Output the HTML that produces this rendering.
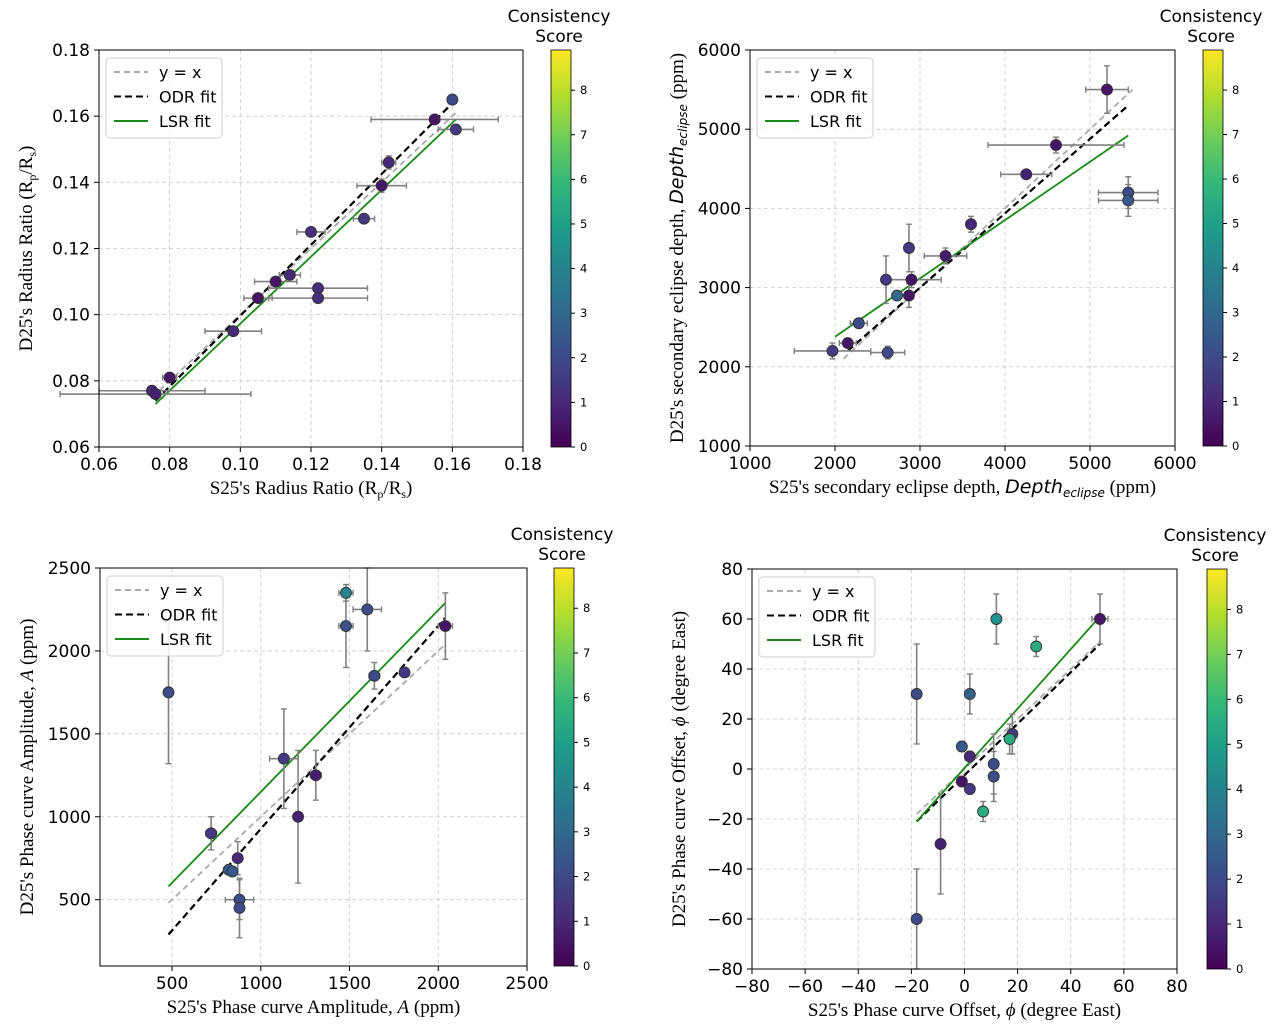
<!DOCTYPE html>
<html><head><meta charset="utf-8"><style>
body{margin:0;background:#fff;}
svg{display:block;}
</style></head><body>
<svg id="fig" width="1285" height="1030" xmlns="http://www.w3.org/2000/svg"></svg>
<script>
// Panel 1 data
const p1x=[0.160,0.155,0.161,0.142,0.140,0.135,0.120,0.114,0.110,0.122,0.122,0.105,0.098,0.080,0.075,0.076];
const p1y=[0.165,0.159,0.156,0.146,0.139,0.129,0.125,0.112,0.110,0.108,0.105,0.105,0.095,0.081,0.077,0.076];
const p1xe=[0,0.018,0.005,0.002,0.007,0.003,0.004,0.003,0.006,0.014,0.014,0.004,0.008,0.002,0.015,0.027];
const p1ye=[0.001,0.001,0.001,0.002,0.002,0.001,0.001,0.001,0.001,0.001,0.001,0.001,0.001,0.001,0.001,0.001];
const p1s=[2,0.5,1.5,1,0.5,1.5,1.2,1,0.5,1.2,1.2,0.5,1,0.5,1,0.8];
const p1ticks=[0.06,0.08,0.10,0.12,0.14,0.16,0.18];
// Panel 2 data
const p2x=[5200,4600,4250,5450,5450,3600,2870,3300,2600,2900,2870,2730,2280,2150,1970,2620];
const p2y=[5500,4800,4430,4200,4100,3800,3500,3400,3100,3100,2900,2900,2550,2300,2200,2180];
const p2xe=[250,800,300,350,350,50,50,250,50,350,50,50,100,100,450,200];
const p2ye=[300,100,50,200,200,100,300,100,300,100,150,50,50,50,100,80];
const p2s=[0.5,0.5,0.8,2,2.5,1,1.5,0.7,1.5,0.5,0.5,3,2,0.5,1.5,2];
const p2ticks=[1000,2000,3000,4000,5000,6000];
// Panel 3 data
const p3x=[480,1480,1600,1480,2040,1640,1810,1130,1310,1210,720,870,820,840,880,880];
const p3y=[1750,2350,2250,2150,2150,1850,1870,1350,1250,1000,900,750,680,670,500,450];
const p3xe=[0,40,80,40,40,30,0,80,30,0,30,0,30,0,80,0];
const p3ye=[430,50,250,250,200,80,0,300,150,400,100,100,30,30,120,180];
const p3s=[2,4,2,2.2,0.5,2,1.5,1.5,0.7,0.8,1.5,1,2.5,2.5,2,2];
const p3xticks=[500,1000,1500,2000,2500];
const p3yticks=[500,1000,1500,2000,2500];
// Panel 4 data
const p4x=[51,12,27,-18,2,-1,2,18,17,-1,11,11,2,7,-9,-18];
const p4y=[60,60,49,30,30,9,5,14,12,-5,2,-3,-8,-17,-30,-60];
const p4xe=[3,0,0,0,0,0,0,0,0,0,0,0,0,0,0,0];
const p4ye=[10,10,4,20,8,2,2,8,6,2,12,10,2,4,20,20];
const p4s=[0.5,4.5,5.5,2,2.8,2.5,1,1.5,5.5,0.5,2,2,1.5,5.5,0.8,2];
const p4ticks=[-80,-60,-40,-20,0,20,40,60,80];

const NS="http://www.w3.org/2000/svg";
const SANS="DejaVu Sans, sans-serif";
const svg=document.getElementById('fig');
function el(tag,attrs,parent,text){const e=document.createElementNS(NS,tag);for(const k in attrs)e.setAttribute(k,attrs[k]);if(text!==undefined)e.textContent=text;(parent||svg).appendChild(e);return e;}
const VS=[[68,1,84],[72,40,120],[62,74,137],[49,104,142],[38,130,142],[31,158,137],[53,183,121],[109,205,89],[180,222,44],[253,231,37]];
function viridis(t){t=Math.max(0,Math.min(1,t))*(VS.length-1);const i=Math.min(Math.floor(t),VS.length-2),f=t-i;const c=VS[i].map((v,k)=>Math.round(v+(VS[i+1][k]-v)*f));return `rgb(${c[0]},${c[1]},${c[2]})`;}
const SMAX=8.9;

function panel(id,cfg){
  const g=el('g',{},svg);
  
  
  const X=v=>cfg.L+(v-cfg.x0)/(cfg.x1-cfg.x0)*(cfg.R-cfg.L);
  const Y=v=>cfg.B-(v-cfg.y0)/(cfg.y1-cfg.y0)*(cfg.B-cfg.T);
  cfg.xt.forEach(v=>{const x=X(v);el('line',{x1:x,x2:x,y1:cfg.T,y2:cfg.B,stroke:'#c8c8c8','stroke-dasharray':'4,3','stroke-width':0.8},g);
    const t=el('text',{x:x,y:cfg.B+23,'font-size':17,'text-anchor':'middle','font-family':SANS},g,cfg.fx(v));
    el('line',{x1:x,x2:x,y1:cfg.B,y2:cfg.B+5,stroke:'#000'},g);});
  cfg.yt.forEach(v=>{const y=Y(v);el('line',{x1:cfg.L,x2:cfg.R,y1:y,y2:y,stroke:'#c8c8c8','stroke-dasharray':'4,3','stroke-width':0.8},g);
    const t=el('text',{x:cfg.L-9,y:y+6,'font-size':17,'text-anchor':'end','font-family':SANS},g,cfg.fy(v));
    el('line',{x1:cfg.L-5,x2:cfg.L,y1:y,y2:y,stroke:'#000'},g);});
  const ln=(a,b,col,dash,w,name)=>{const l=el('line',{x1:X(a[0]),y1:Y(a[1]),x2:X(b[0]),y2:Y(b[1]),stroke:col,'stroke-width':w,'stroke-dasharray':dash},g);};
  ln(cfg.yx[0],cfg.yx[1],'#aaa','6,4',1.8,'y-equals-x-line');
  ln(cfg.odr[0],cfg.odr[1],'#000','7,4',2.2,'odr-fit-line');
  ln(cfg.lsr[0],cfg.lsr[1],'#178a17','none',1.8,'lsr-fit-line');
  for(let i=0;i<cfg.xs.length;i++){
    const px=X(cfg.xs[i]),py=Y(cfg.ys[i]);
    if(cfg.xe[i]>0){const a=X(cfg.xs[i]-cfg.xe[i]),b=X(cfg.xs[i]+cfg.xe[i]);
      el('line',{x1:a,x2:b,y1:py,y2:py,stroke:'#808080','stroke-width':1.6},g);
      el('line',{x1:a,x2:a,y1:py-3,y2:py+3,stroke:'#808080','stroke-width':1.4},g);
      el('line',{x1:b,x2:b,y1:py-3,y2:py+3,stroke:'#808080','stroke-width':1.4},g);}
    if(cfg.ye[i]>0){const a=Y(cfg.ys[i]-cfg.ye[i]),b=Y(cfg.ys[i]+cfg.ye[i]);
      el('line',{x1:px,x2:px,y1:a,y2:b,stroke:'#808080','stroke-width':1.6},g);
      el('line',{x1:px-3,x2:px+3,y1:a,y2:a,stroke:'#808080','stroke-width':1.4},g);
      el('line',{x1:px-3,x2:px+3,y1:b,y2:b,stroke:'#808080','stroke-width':1.4},g);}
  }
  for(let i=0;i<cfg.xs.length;i++){
    const c=el('circle',{cx:X(cfg.xs[i]),cy:Y(cfg.ys[i]),r:5.5,fill:viridis(cfg.ss[i]/SMAX),stroke:'#333','stroke-width':0.9},g);
    
    
  }
  el('rect',{x:cfg.L,y:cfg.T,width:cfg.R-cfg.L,height:cfg.B-cfg.T,fill:'none',stroke:'#000','stroke-width':1},g);
  const lg=el('g',{},g);
  const lx=cfg.L+7,ly=cfg.T+8;
  el('rect',{x:lx,y:ly,width:116,height:80,rx:4,fill:'#fff','fill-opacity':0.85,stroke:'#ccc'},lg);
  [['y = x','#aaa','6,4'],['ODR fit','#000','7,4'],['LSR fit','#178a17','none']].forEach((d,k)=>{
    const yy=ly+14+k*24.5;
    el('line',{x1:lx+8,x2:lx+42,y1:yy,y2:yy,stroke:d[1],'stroke-width':2,'stroke-dasharray':d[2]},lg);
    const t=el('text',{x:lx+53,y:yy+6,'font-size':16,'font-family':SANS},lg,d[0]);
  });
  const xl=el('text',{x:(cfg.L+cfg.R)/2,y:cfg.B+47,'font-size':19,'text-anchor':'middle','font-family':'Liberation Serif, serif'},g);
  xl.innerHTML=cfg.xlab;
  const yl=el('text',{transform:`translate(${cfg.L-67},${(cfg.T+cfg.B)/2}) rotate(-90)`,'font-size':19,'text-anchor':'middle','font-family':'Liberation Serif, serif'},g);
  yl.innerHTML=cfg.ylab;
  const cb=el('g',{},g);
  const defs=el('defs',{},cb);const gr=el('linearGradient',{id:id+'grad',x1:0,y1:1,x2:0,y2:0},defs);
  VS.forEach((c,k)=>el('stop',{offset:(k/(VS.length-1)),'stop-color':`rgb(${c})`},gr));
  el('rect',{x:cfg.cx,y:cfg.T,width:20,height:cfg.B-cfg.T,fill:`url(#${id}grad)`,stroke:'#000','stroke-width':0.8},cb);
  for(let s=0;s<=8;s++){const y=cfg.B-s/SMAX*(cfg.B-cfg.T);
    el('line',{x1:cfg.cx+20,x2:cfg.cx+24,y1:y,y2:y,stroke:'#000'},cb);
    el('text',{x:cfg.cx+29,y:y+4,'font-size':11.5,'font-family':SANS},cb,String(s));}
  el('text',{x:cfg.cx+8,y:cfg.T-28,'font-size':17,'text-anchor':'middle','font-family':SANS},cb,'Consistency');
  el('text',{x:cfg.cx+8,y:cfg.T-8,'font-size':17,'text-anchor':'middle','font-family':SANS},cb,'Score');
}
panel('radius',{L:99,R:523,T:50,B:447,x0:0.06,x1:0.18,y0:0.06,y1:0.18,xt:p1ticks,yt:p1ticks,fx:v=>v.toFixed(2),fy:v=>v.toFixed(2),
  xs:p1x,ys:p1y,xe:p1xe,ye:p1ye,ss:p1s,yx:[[0.075,0.075],[0.161,0.161]],odr:[[0.076,0.074],[0.161,0.165]],lsr:[[0.076,0.073],[0.161,0.159]],cx:551,
  xlab:"S25's Radius Ratio (R<tspan font-size='12' dy='4'>p</tspan><tspan dy='-4'>/R</tspan><tspan font-size='12' dy='4'>s</tspan><tspan dy='-4'>)</tspan>",
  ylab:"D25's Radius Ratio (R<tspan font-size='12' dy='4'>p</tspan><tspan dy='-4'>/R</tspan><tspan font-size='12' dy='4'>s</tspan><tspan dy='-4'>)</tspan>"});
panel('depth',{L:750,R:1175,T:50,B:446,x0:1000,x1:6000,y0:1000,y1:6000,xt:p2ticks,yt:p2ticks,fx:v=>v,fy:v=>v,
  xs:p2x,ys:p2y,xe:p2xe,ye:p2ye,ss:p2s,yx:[[2100,2100],[5500,5500]],odr:[[2150,2200],[5450,5300]],lsr:[[2000,2380],[5450,4920]],cx:1203,
  xlab:"S25's secondary eclipse depth, <tspan font-style='italic' font-family='DejaVu Sans, sans-serif'>Depth</tspan><tspan font-size='12' dy='4' font-style='italic' font-family='DejaVu Sans, sans-serif'>eclipse</tspan><tspan dy='-4'> (ppm)</tspan>",
  ylab:"D25's secondary eclipse depth, <tspan font-style='italic' font-family='DejaVu Sans, sans-serif'>Depth</tspan><tspan font-size='12' dy='4' font-style='italic' font-family='DejaVu Sans, sans-serif'>eclipse</tspan><tspan dy='-4'> (ppm)</tspan>"});
panel('amp',{L:100,R:527,T:568,B:966,x0:94,x1:2500,y0:100,y1:2500,xt:p3xticks,yt:p3yticks,fx:v=>v,fy:v=>v,
  xs:p3x,ys:p3y,xe:p3xe,ye:p3ye,ss:p3s,yx:[[480,480],[2030,2030]],odr:[[480,290],[2040,2200]],lsr:[[480,580],[2040,2290]],cx:554,
  xlab:"S25's Phase curve Amplitude, <tspan font-style='italic'>A</tspan> (ppm)",ylab:"D25's Phase curve Amplitude, <tspan font-style='italic'>A</tspan> (ppm)"});
panel('offset',{L:752,R:1177,T:569,B:969,x0:-80,x1:80,y0:-80,y1:80,xt:p4ticks,yt:p4ticks,fx:v=>v<0?'\u2212'+(-v):v,fy:v=>v<0?'\u2212'+(-v):v,
  xs:p4x,ys:p4y,xe:p4xe,ye:p4ye,ss:p4s,yx:[[-18,-18],[51,51]],odr:[[-18,-21],[51,50]],lsr:[[-18,-21],[51,61]],cx:1207,
  xlab:"S25's Phase curve Offset, <tspan font-style='italic'>ϕ</tspan> (degree East)",ylab:"D25's Phase curve Offset, <tspan font-style='italic'>ϕ</tspan> (degree East)"});
</script>
</body></html>
